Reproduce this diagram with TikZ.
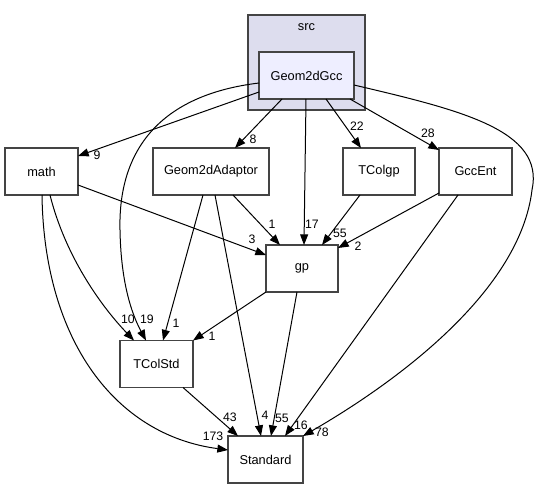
\documentclass[tikz,border=0pt]{standalone}
\usepackage{fontspec}
\setmainfont{Liberation Sans}
\usetikzlibrary{arrows.meta,calc}
\definecolor{boxline}{HTML}{444444}
\definecolor{srcfill}{HTML}{DDDDEE}
\definecolor{dirfill}{HTML}{EEEEFF}
\tikzset{
  dirbox/.style={draw=boxline,line width=1.2pt,fill=white,inner sep=0pt,outer sep=0pt,
    minimum height=35.25pt,font=\fontsize{9.6}{11}\selectfont},
  dep/.style={line width=0.75pt,-{Triangle[length=8pt,width=6pt]}},
  num/.style={inner sep=0pt,font=\fontsize{9.2}{10}\selectfont}
}
\begin{document}
\begin{tikzpicture}[x=0.75pt,y=-0.75pt]
\useasboundingbox (0,0) rectangle (537,489);

\node (srcbox) [draw=boxline,line width=1.2pt,fill=srcfill,minimum width=87.75pt,minimum height=71.25pt,inner sep=0pt] at (306.5,62.5) {};
\node (src) [font=\fontsize{9.6}{11}\selectfont] at (306.5,27) {src};

\node (gcc) [dirbox,fill=dirfill,minimum width=71.25pt] at (306.5,75.5) {Geom2dGcc};
\node (math) [dirbox,minimum width=54.75pt] at (41.5,171.5) {math};
\node (adaptor) [dirbox,minimum width=87pt] at (211,171.5) {Geom2dAdaptor};
\node (tcolgp) [dirbox,minimum width=54pt] at (379,171.5) {TColgp};
\node (gccent) [dirbox,minimum width=54.75pt] at (475.5,171.5) {GccEnt};
\node (gp) [dirbox,minimum width=54pt] at (302,268.5) {gp};
\node (tcolstd) [dirbox,minimum width=54.75pt] at (156.5,364) {TColStd};
\node (standard) [dirbox,minimum width=56.25pt] at (265.5,459.5) {Standard};

\draw [dep] ($(gcc.north west)+(0,40)$) -- ($(math.north east)+(0,8)$);
\draw [dep] ($(gcc.north west)+(0,31)$) .. controls (160,95) and (118,150) .. (120,230)
   .. controls (121,290) and (135,320) .. ($(tcolstd.north west)+(26,0)$);
\draw [dep] ($(gcc.south west)+(23,0)$) -- ($(adaptor.north east)+(-34,0)$);
\draw [dep] ($(gcc.south west)+(47,0)$) -- ($(gp.north west)+(38,0)$);
\draw [dep] ($(gcc.south west)+(67,0)$) -- ($(tcolgp.north west)+(18,0)$);
\draw [dep] ($(gcc.south east)+(-4,0)$) -- ($(gccent.north west)+(0,2)$);
\draw [dep] ($(gcc.north east)+(0,33)$) .. controls (460,110) and (545,130) .. (532,190)
   .. controls (520,290) and (400,380) .. (standard.north east);

\draw [dep] ($(math.north east)+(0,37)$) -- ($(gp.north west)+(0,10)$);
\draw [dep] ($(math.south west)+(45,0)$) .. controls (65,255) and (100,305) .. ($(tcolstd.north west)+(14,0)$);
\draw [dep] ($(math.south west)+(37,0)$) .. controls (44,340) and (115,435) .. ($(standard.north west)+(0,14)$);

\draw [dep] ($(adaptor.south east)+(-36,0)$) -- ($(gp.north west)+(14,0)$);
\draw [dep] ($(adaptor.south west)+(50,0)$) -- ($(tcolstd.north west)+(43,0)$);
\draw [dep] ($(adaptor.south west)+(62,0)$) -- ($(standard.north west)+(33,0)$);

\draw [dep] ($(tcolgp.south west)+(17,0)$) -- ($(gp.north east)+(-16,0)$);
\draw [dep] ($(gccent.south west)+(0,-2)$) -- ($(gp.north east)+(0,3)$);
\draw [dep] ($(gccent.south west)+(19,0)$) -- ($(standard.north east)+(-18,0)$);

\draw [dep] (gp.south west) -- (tcolstd.north east);
\draw [dep] ($(gp.south west)+(31,0)$) -- ($(standard.north west)+(43,0)$);
\draw [dep] ($(tcolstd.south west)+(63,0)$) -- ($(standard.north west)+(10,0)$);

\node (n9) [num] at (97,155) {9};
\node (n8) [num] at (253,139) {8};
\node (n22) [num] at (357,126) {22};
\node (n28) [num] at (428,133) {28};
\node (n17) [num] at (312,224) {17};
\node (n1a) [num] at (272,224) {1};
\node (n3) [num] at (252,239) {3};
\node (n55a) [num] at (340,233) {55};
\node (n2) [num] at (358,246) {2};
\node (n10) [num] at (128,319) {10};
\node (n19) [num] at (147,319) {19};
\node (n1b) [num] at (176,323) {1};
\node (n1c) [num] at (212,336) {1};
\node (n43) [num] at (230,417) {43};
\node (n173) [num] at (213,436) {173};
\node (n4) [num] at (265,415) {4};
\node (n55b) [num] at (282,418) {55};
\node (n16) [num] at (301,425) {16};
\node (n78) [num] at (322,432) {78};

\end{tikzpicture}
\end{document}
